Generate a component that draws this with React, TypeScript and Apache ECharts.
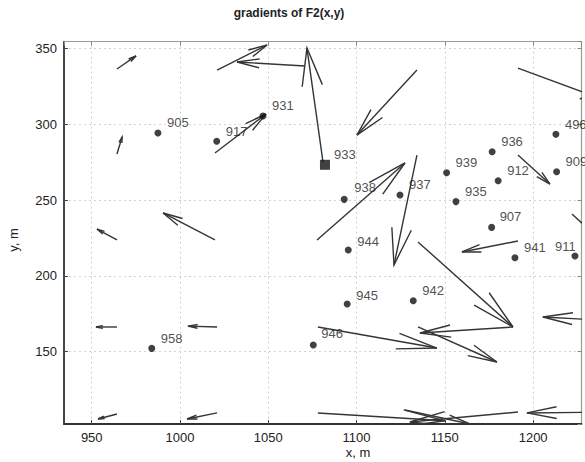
import React, { useEffect, useRef } from "react";
import * as echarts from "echarts";

// ---- data ----
const xTicks = [950, 1000, 1050, 1100, 1150, 1200];
const yTicks = [150, 200, 250, 300, 350];

const pointLabels = ["905", "917", "931", "933", "938", "937", "939", "935", "936", "912", "496", "909", "907", "941", "911", "944", "945", "942", "946", "958"];
const pointX = [987.5, 1020.8, 1047, 1082.1, 1093, 1124.6, 1151, 1156.3, 1176.8, 1180.2, 1212.9, 1213.3, 1176.5, 1189.7, 1223.7, 1095.3, 1094.7, 1132.1, 1075.5, 984];
const pointY = [294.3, 288.8, 305.5, 273.3, 250.5, 253.4, 268.1, 249, 281.9, 262.8, 293.4, 268.7, 232, 212, 213.1, 217.1, 181.5, 183.6, 154.4, 152.2];

// quiver: tail (x, y) and vector (u, v)
const arrowX = [964.3, 964.3, 1070.8, 1021, 1081, 1019.8, 1134.2, 1077.6, 1134.2, 1134.8, 1191.4, 1188.6, 1134.8, 1078.1, 1256.5, 1191.4, 1191.4, 1222, 964.3, 1019.8, 964.3, 1021, 964.3, 1021, 1078.1, 1247.5, 1191.4, 1127.4];
const arrowY = [336.5, 280.4, 338.5, 335.8, 275.1, 281.1, 335.8, 223.7, 279.7, 222.4, 223, 166.3, 166.3, 166.3, 169.6, 279.7, 337.1, 240.8, 223.7, 223.7, 166.3, 166.3, 108.9, 109.6, 109.6, 110.2, 110.2, 111.5];
const arrowU = [10.8, 2.9, -38.5, 28.3, -9.1, 28.9, -34, 49.8, -13, 53.8, -31.7, -52.7, 44.7, 67.4, -51, 18.1, 54.9, 13, -11.3, -29.4, -11.9, -16.5, -10.7, -17, 72, -51, -61.2, 36.8];
const arrowV = [8.6, 11.2, 2.6, 16.5, 75.2, 25.7, -42.9, 50.8, -72.5, -56.1, -7.2, -4, -23.1, -13.9, 3.3, -19.1, -23.7, -13.8, 7.2, 17.8, 0, 0.6, -3.3, -4, -5.2, -0.6, -6.6, -9.2];

const titleText = "gradients of F2(x,y)";
const xName = "x, m";
const yName = "y, m";

// ---- styling ----
const FONT = "'Liberation Sans', Arial, Helvetica, sans-serif";
const INK = "#222222";
const ARROW = "#353535";
const labelOffsets: Record<string, [number, number]> = {
  "938": [10, -12],
  "907": [8, -11],
  "911": [-20, -10],
  "946": [8, -12],
  "944": [9, -8],
  "945": [9, -8],
};

export default function App() {
  const ref = useRef<HTMLDivElement>(null);

  useEffect(() => {
    document.body.style.margin = "0";
    if (!ref.current) return;
    const chart = echarts.init(ref.current, undefined, { renderer: "svg" });

    const xMin = 934.3, xMax = 1227.4, yMin = 102.3, yMax = 354.5;
    const dot = 7;

    const scatterData = pointLabels.map((name, i) => {
      const off = labelOffsets[name] || [9, -10];
      const isSquare = name === "933";
      const size = isSquare ? 10 : dot;
      return {
        name,
        value: [pointX[i], pointY[i]],
        symbol: isSquare ? "rect" : "circle",
        symbolSize: size,
        label: { position: [size / 2 + off[0], size / 2 + off[1]] },
      };
    });

    const arrowData = arrowX.map((x, i) => [x, arrowY[i], arrowU[i], arrowV[i]]);

    const fmtX = (v: number) => (xTicks.indexOf(Math.round(v * 1000) / 1000) >= 0 ? String(v) : "");
    const fmtY = (v: number) => (yTicks.indexOf(Math.round(v * 1000) / 1000) >= 0 ? String(v) : "");

    const splitLine = { show: true, lineStyle: { color: "#d2d2d2", width: 1, type: [2, 3] as any } };

    chart.setOption({
      animation: false,
      backgroundColor: "#ffffff",
      textStyle: { fontFamily: FONT },
      grid: { left: 64, right: 3.5, top: 41.7, bottom: 38, containLabel: false },
      xAxis: [
        {
          type: "value", min: xMin, max: xMax, position: "bottom",
          axisLine: { show: true, onZero: false, lineStyle: { color: "#333", width: 1.8 } },
          axisTick: { show: true, inside: true, length: 4, lineStyle: { color: "#444" } },
          axisLabel: { show: true, formatter: fmtX, color: INK, fontSize: 13, fontFamily: FONT, margin: 7, showMinLabel: false, showMaxLabel: false },
          splitLine,
        },
        {
          type: "value", min: xMin, max: xMax, position: "top",
          axisLine: { show: true, onZero: false, lineStyle: { color: "#9a9a9a", width: 1.2 } },
          axisTick: { show: true, inside: true, length: 4, lineStyle: { color: "#888" } },
          axisLabel: { show: false },
          splitLine: { show: false },
        },
      ],
      yAxis: [
        {
          type: "value", min: yMin, max: yMax, position: "left",
          axisLine: { show: true, onZero: false, lineStyle: { color: "#333", width: 1.8 } },
          axisTick: { show: true, inside: true, length: 4, lineStyle: { color: "#444" } },
          axisLabel: { show: true, formatter: fmtY, color: INK, fontSize: 13, fontFamily: FONT, margin: 7, showMinLabel: false, showMaxLabel: false },
          splitLine,
        },
        {
          type: "value", min: yMin, max: yMax, position: "right",
          axisLine: { show: true, onZero: false, lineStyle: { color: "#9a9a9a", width: 1.2 } },
          axisTick: { show: true, inside: true, length: 4, lineStyle: { color: "#888" } },
          axisLabel: { show: false },
          splitLine: { show: false },
        },
      ],
      graphic: [
        {
          type: "text", x: 289, y: 13, silent: true,
          style: { text: titleText, fill: INK, font: `bold 12px ${FONT}`, align: "center", verticalAlign: "middle" },
        },
        {
          type: "text", x: 358, y: 452, silent: true,
          style: { text: xName, fill: INK, font: `13px ${FONT}`, align: "center", verticalAlign: "middle" },
        },
        {
          type: "text", x: 13, y: 240, rotation: Math.PI / 2, silent: true,
          style: { text: yName, fill: INK, font: `13px ${FONT}`, align: "center", verticalAlign: "middle" },
        },
      ],
      series: [
        {
          type: "custom",
          xAxisIndex: 0, yAxisIndex: 0,
          clip: true,
          silent: true,
          encode: { x: 0, y: 1 },
          data: arrowData,
          renderItem: (params: any, api: any) => {
            const x = api.value(0), y = api.value(1), u = api.value(2), v = api.value(3);
            const hx = x + u, hy = y + v;
            const a = 0.33, b = 0.23;
            const p0 = api.coord([x, y]);
            const p1 = api.coord([hx, hy]);
            const b1 = api.coord([hx - a * (u + b * v), hy - a * (v - b * u)]);
            const b2 = api.coord([hx - a * (u - b * v), hy - a * (v + b * u)]);
            const st = { stroke: ARROW, lineWidth: 1.4, fill: "none" };
            return {
              type: "group",
              children: [
                { type: "line", shape: { x1: p0[0], y1: p0[1], x2: p1[0], y2: p1[1] }, style: st },
                { type: "polyline", shape: { points: [b1, p1, b2] }, style: st },
              ],
            };
          },
          z: 3,
        },
        {
          type: "scatter",
          xAxisIndex: 0, yAxisIndex: 0,
          data: scatterData,
          symbolSize: dot,
          itemStyle: { color: "#111" },
          label: {
            show: true,
            formatter: "{b}",
            color: INK,
            fontSize: 13,
            fontFamily: FONT,
            align: "left",
            verticalAlign: "middle",
          },
          labelLayout: { hideOverlap: false },
          silent: true,
          z: 4,
        },
      ],
    });

    return () => chart.dispose();
  }, []);

  return <div ref={ref} style={{ width: 585, height: 462 }} />;
}
